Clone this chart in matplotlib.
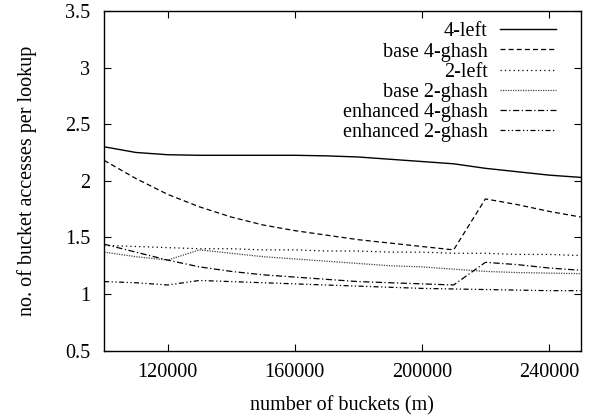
import matplotlib
matplotlib.use('Agg')
import matplotlib.pyplot as plt
from matplotlib.ticker import FormatStrFormatter

plt.rcParams['font.family'] = ['Liberation Serif', 'DejaVu Serif']
plt.rcParams['font.size'] = 14.5

# number of buckets
buckets = [100000, 110000, 120000, 130000, 140000, 150000, 160000, 170000,
           180000, 190000, 200000, 210000, 220000, 230000, 240000, 250000]

# bucket accesses per lookup for each scheme
left4 = [2.30, 2.25, 2.23, 2.225, 2.225, 2.225, 2.225, 2.22,
         2.21, 2.19, 2.17, 2.15, 2.11, 2.08, 2.05, 2.03]
base_ghash4 = [2.18, 2.02, 1.88, 1.77, 1.68, 1.61, 1.56, 1.52,
               1.48, 1.45, 1.42, 1.39, 1.84, 1.79, 1.73, 1.68]
left2 = [1.43, 1.42, 1.41, 1.40, 1.40, 1.39, 1.39, 1.38,
         1.38, 1.37, 1.37, 1.36, 1.36, 1.35, 1.35, 1.34]
base_ghash2 = [1.37, 1.33, 1.30, 1.39, 1.36, 1.33, 1.31, 1.29,
               1.27, 1.25, 1.24, 1.22, 1.20, 1.19, 1.185, 1.18]
enh_ghash4 = [1.44, 1.37, 1.30, 1.24, 1.20, 1.17, 1.15, 1.13,
              1.11, 1.10, 1.09, 1.08, 1.28, 1.26, 1.23, 1.21]
enh_ghash2 = [1.11, 1.10, 1.08, 1.12, 1.11, 1.10, 1.09, 1.08,
              1.07, 1.06, 1.05, 1.045, 1.04, 1.035, 1.03, 1.03]

fig = plt.figure(figsize=(5.95, 4.18), dpi=100)
ax = fig.add_axes([0.175, 0.161, 0.801, 0.813])

ax.plot(buckets, left4, color='black', lw=1.0, ls='-', label='4-left')
ax.plot(buckets, base_ghash4, color='black', lw=0.9, ls=(0, (4, 2.5)), label='base 4-ghash')
ax.plot(buckets, left2, color='black', lw=0.9, ls=(0, (1, 2.5)), label='2-left')
ax.plot(buckets, base_ghash2, color='#444444', lw=0.9, ls=(0, (1, 1)), label='base 2-ghash')
ax.plot(buckets, enh_ghash4, color='black', lw=0.9, ls=(0, (5, 2, 1, 2)), label='enhanced 4-ghash')
ax.plot(buckets, enh_ghash2, color='black', lw=0.9, ls=(0, (4, 2, 1, 2, 1, 2)), label='enhanced 2-ghash')

ax.set_xlim(100000, 250000)
ax.set_ylim(0.5, 3.5)
ax.set_xticks([120000, 160000, 200000, 240000])
ax.set_yticks([0.5, 1, 1.5, 2, 2.5, 3, 3.5])
ax.yaxis.set_major_formatter(FormatStrFormatter('%g'))
ax.tick_params(direction='in', length=5, width=0.8, top=True, right=True)
ax.tick_params(axis='y', pad=10)
ax.tick_params(axis='x', pad=9)
for s in ax.spines.values():
    s.set_linewidth(1.0)

ax.set_xlabel('number of buckets (m)', labelpad=10)
ax.set_ylabel('no. of bucket accesses per lookup', labelpad=20)

ax.legend(loc='upper right', frameon=False, markerfirst=False,
          handlelength=2.8, handletextpad=0.6, labelspacing=0.05,
          borderaxespad=0.0, bbox_to_anchor=(0.965, 0.99))

fig.savefig('out.png', dpi=100)
